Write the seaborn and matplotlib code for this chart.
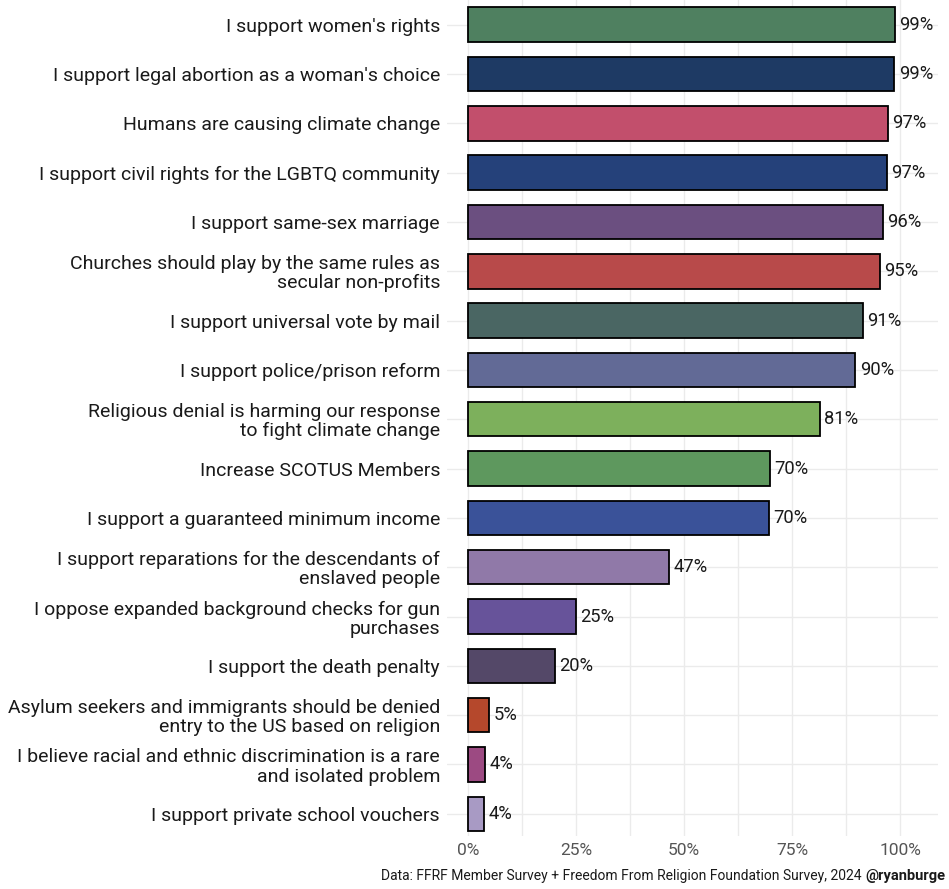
import matplotlib
matplotlib.use("Agg")
import matplotlib.pyplot as plt
import seaborn as sns
import pandas as pd
from matplotlib.ticker import FixedLocator

categories = [
    "I support women's rights",
    "I support legal abortion as a woman's choice",
    "Humans are causing climate change",
    "I support civil rights for the LGBTQ community",
    "I support same-sex marriage",
    "Churches should play by the same rules as\nsecular non-profits",
    "I support universal vote by mail",
    "I support police/prison reform",
    "Religious denial is harming our response\nto fight climate change",
    "Increase SCOTUS Members",
    "I support a guaranteed minimum income",
    "I support reparations for the descendants of\nenslaved people",
    "I oppose expanded background checks for gun\npurchases",
    "I support the death penalty",
    "Asylum seekers and immigrants should be denied\nentry to the US based on religion",
    "I believe racial and ethnic discrimination is a rare\nand isolated problem",
    "I support private school vouchers",
]
values = [98.7, 98.6, 97.1, 96.9, 95.9, 95.2, 91.3, 89.6, 81.4, 69.8, 69.6,
          46.6, 24.9, 20.1, 4.9, 3.9, 3.7]
colors = ["#4f8060", "#1e3a64", "#c24f6c", "#25417a", "#6b4f80", "#b84a4a",
          "#4a6663", "#626a96", "#7db05c", "#5e985e", "#3a5299", "#9079a8",
          "#67539a", "#544868", "#b5482c", "#9c4a82", "#a89ac4"]
x_ticks = [0, 25, 50, 75, 100]
x_tick_labels = ["0%", "25%", "50%", "75%", "100%"]
caption = "Data: FFRF Member Survey + Freedom From Religion Foundation Survey, 2024 "
handle = "@ryanburge"

df = pd.DataFrame({"cat": categories, "val": values})

sns.set_theme(style="white")
plt.rcParams["font.family"] = ["Roboto", "DejaVu Sans"]

fig = plt.figure(figsize=(9.49, 8.89), dpi=100)
ax = fig.add_axes([447 / 949, 1 - 836 / 889, (938 - 447) / 949, 836 / 889])

sns.barplot(data=df, y="cat", x="val", hue="cat", palette=colors, legend=False,
            orient="h", width=0.7, edgecolor="black", linewidth=1.3, ax=ax,
            saturation=1)

ax.set_xlim(-4.86, 108.7)
ax.set_ylim(16.45, -0.5)
ax.set_xlabel("")
ax.set_ylabel("")

ax.xaxis.set_major_locator(FixedLocator(x_ticks))
ax.set_xticklabels(x_tick_labels)
ax.xaxis.set_minor_locator(FixedLocator([12.5, 37.5, 62.5, 87.5]))
ax.set_axisbelow(True)
ax.grid(True, which="major", axis="both", color="#ebebeb", linewidth=1.0)
ax.grid(True, which="minor", axis="x", color="#ebebeb", linewidth=1.0)
for s in ax.spines.values():
    s.set_visible(False)
ax.tick_params(axis="both", which="both", length=0)
ax.tick_params(axis="y", pad=5, labelsize=14.0, labelcolor="#1a1a1a")
ax.tick_params(axis="x", pad=5, labelsize=12.5, labelcolor="#555555")
for t in ax.get_yticklabels():
    t.set_linespacing(1.08)

for i, v in enumerate(values):
    ax.text(v + 1.0, i, f"{round(v)}%", va="center", ha="left",
            fontsize=13.2, color="#1a1a1a")

fig.canvas.draw()
renderer = fig.canvas.get_renderer()
h = fig.text(945 / 949, 1 - 876 / 889, handle, ha="right", va="center",
             fontsize=10.5, fontweight="bold", color="#1a1a1a")
bb = h.get_window_extent(renderer)
fig.text(bb.x0 / fig.bbox.width, 1 - 876 / 889, caption, ha="right", va="center",
         fontsize=10.0, color="#1a1a1a")

fig.savefig("out.png", dpi=100)
